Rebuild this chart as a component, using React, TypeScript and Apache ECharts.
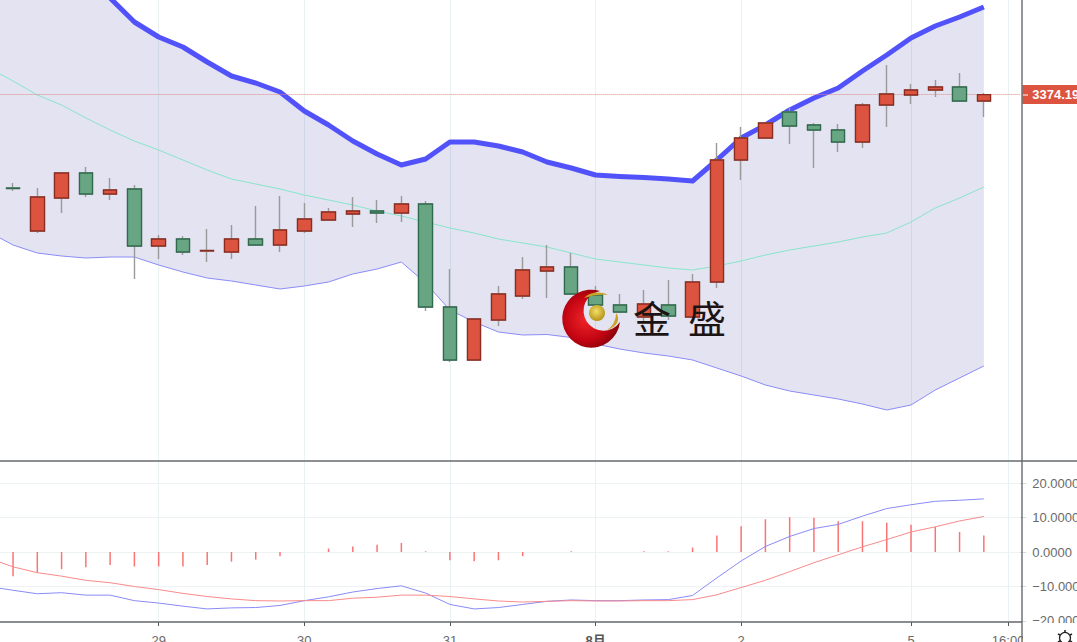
import React, { useEffect, useRef } from "react";
import * as echarts from "echarts";

const xLabels = ["", "", "", "", "", "", "", "29", "", "", "", "", "", "30", "", "", "", "", "", "31", "", "", "", "", "", "8月", "", "", "", "", "", "2", "", "", "", "", "", "", "5", "", "", "", "16:00"];

const opens = [3327.5, 3306, 3322.5, 3335, 3324.5, 3327, 3298.5, 3302, 3296, 3295.5, 3302, 3299, 3306, 3311.5, 3314.5, 3316, 3315, 3319.5, 3268, 3241.5, 3261.5, 3273.5, 3286, 3288, 3274, 3269, 3263, 3269, 3263, 3280.5, 3341.5, 3352.5, 3365.5, 3359, 3356.5, 3350.5, 3369, 3374, 3376.5, 3378, 3371];
const closes = [3327.25, 3323, 3335, 3324.5, 3326.5, 3298.5, 3302, 3295.5, 3296.25, 3302, 3299, 3306.5, 3312, 3315.5, 3316, 3315, 3319.5, 3268, 3241.5, 3262, 3274.5, 3286.5, 3288, 3274.5, 3269, 3265.5, 3269.5, 3263.5, 3280.5, 3341.5, 3352.5, 3360, 3358.5, 3356.5, 3350.5, 3369, 3374.5, 3376.5, 3378, 3371, 3374.19];
const highs = [3330, 3327.5, 3335, 3338, 3332.5, 3329, 3304, 3303.5, 3307, 3309, 3318.5, 3323.5, 3320, 3317.5, 3323, 3321.5, 3323.5, 3321, 3287, 3262.5, 3278.5, 3293, 3299, 3295, 3278.5, 3274.5, 3276.5, 3281.5, 3284.5, 3350, 3358, 3360.5, 3367.5, 3360, 3359.5, 3370, 3389, 3379.5, 3381.5, 3385, 3375];
const lows = [3326, 3305, 3315, 3323, 3321.5, 3282, 3292, 3294, 3290.5, 3292, 3299, 3295.5, 3305, 3311.5, 3308, 3310, 3310.5, 3266, 3240.5, 3241, 3258.5, 3272, 3272.5, 3274.5, 3269, 3265, 3260, 3261.5, 3263, 3277.5, 3331.5, 3352.5, 3349.5, 3337.5, 3345.5, 3347.5, 3358, 3369.5, 3373, 3371, 3363];

const bandUpper = [3470, 3466.5, 3456.5, 3446.5, 3434, 3422.5, 3410.5, 3403, 3398, 3390.5, 3383.5, 3380, 3375.5, 3366, 3359, 3351, 3344.5, 3339, 3342, 3350.5, 3350.5, 3348.5, 3345.5, 3340.5, 3337.5, 3334, 3333.25, 3332.75, 3332, 3331, 3341.5, 3352.5, 3359, 3366.5, 3372.5, 3377.5, 3386, 3394, 3402.5, 3408.5, 3413, 3418];
const bandMiddle = [3387.5, 3381, 3374, 3369, 3362.5, 3356.5, 3351, 3346.5, 3341.5, 3336.5, 3332, 3329.5, 3327, 3324, 3321.5, 3319, 3316, 3313.5, 3310.5, 3307.5, 3305, 3302, 3300, 3298, 3295, 3292, 3290.5, 3289, 3287.5, 3286.5, 3288.5, 3291, 3294, 3296.5, 3298.5, 3300.5, 3303, 3305, 3310.5, 3317.5, 3322.5, 3328];
const bandLower = [3305.5, 3299, 3295, 3293.5, 3292.5, 3293, 3293, 3289, 3285.5, 3282.5, 3281, 3279, 3277, 3278.5, 3280.5, 3284.5, 3287, 3290.5, 3280, 3266.5, 3260.5, 3255.5, 3254, 3254.25, 3252.75, 3249.5, 3247, 3245, 3243.5, 3241.5, 3237.5, 3233.5, 3229, 3226, 3224, 3222, 3219.5, 3216.5, 3219, 3226.5, 3232.5, 3238.5];

const macdLine = [-10, -11.1, -12.1, -11.8, -12.5, -12.5, -14.1, -14.8, -15.7, -16.5, -16.2, -16.1, -15.5, -14.1, -13, -11.6, -10.6, -9.8, -11.9, -15.2, -16.5, -16.1, -15.2, -14.3, -13.9, -14.1, -14.1, -13.9, -13.8, -12.6, -7.5, -2.6, 1.6, 4.5, 6.8, 8, 10.4, 12.6, 13.7, 14.7, 15, 15.4];
const signalLine = [-1.8, -4.3, -6, -7, -8.2, -8.9, -10, -10.9, -12, -12.9, -13.6, -14.1, -14.2, -14.1, -14.1, -13.4, -13.1, -12.5, -12.5, -12.9, -13.6, -14.2, -14.5, -14.3, -14.1, -14.2, -14.2, -14.1, -14.1, -13.8, -12.4, -10.3, -8.2, -5.7, -3.1, -0.8, 1.5, 3.6, 5.8, 7.3, 9, 10.3];
const histogram = [-7, -6, -5, -4.4, -3.8, -4.2, -4.2, -4.2, -3.8, -2.8, -2.2, -1.2, 0, 1, 1.6, 2.1, 2.6, 0.2, -2.4, -2.7, -2.4, -1.2, 0, 0.2, 0, 0, 0.2, 0.2, 1.3, 4.8, 7.5, 9.5, 10.1, 9.9, 8.9, 8.9, 8.5, 7.9, 7.3, 5.8, 4.8];

const lastPrice = 3374.19;
const macdTicks = [-20, -10, 0, 10, 20];

const LEFT = -23.37;
const WIDTH = 1043.6;
const FONT = '"Liberation Sans", "Noto Sans CJK SC", sans-serif';
const UP = "#dc5440";
const UP_BORDER = "#8a2c20";
const DOWN = "#67a583";
const DOWN_BORDER = "#2f6a4e";

echarts.graphic.registerShape(
  "jsCrescent",
  echarts.graphic.extendPath("M 37 3 A 29 29 0 1 0 57 34 A 20 20 0 1 1 37 3 Z", {})
);
echarts.graphic.registerShape(
  "jsSwooshTop",
  echarts.graphic.extendPath("M 0 6 C 6 0 16 -1 24 3 C 17 2 8 3 0 6 Z", {})
);
echarts.graphic.registerShape(
  "jsSwooshBottom",
  echarts.graphic.extendPath("M 0 17 C 6 15 10 8 10 0 C 15 6 11 15 0 17 Z", {})
);

const keepDay = (_: number, v: string) => v !== "";

function buildOption() {
  const blank = ["-", "-", "-", "-"];
  const wicks = [blank, ...opens.map((o, i) => [o, closes[i], lows[i], highs[i]])];
  const bodies = [
    blank,
    ...opens.map((o, i) => {
      const c = closes[i];
      return [o, c, Math.min(o, c), Math.max(o, c)];
    }),
  ];
  const thickness = bandUpper.map((u, i) => u - bandLower[i]);
  const hist = ["-", ...histogram];

  const dayLines = {
    show: true,
    interval: keepDay,
    alignWithLabel: true,
    lineStyle: { color: "#e9f2f3", width: 1 },
  };

  return {
    animation: false,
    backgroundColor: "#ffffff",
    grid: [
      { left: LEFT, width: WIDTH, top: 0, height: 461, outerBoundsMode: "none" },
      { left: LEFT, width: WIDTH, top: 461, height: 161, outerBoundsMode: "none" },
    ],
    xAxis: [
      {
        type: "category",
        gridIndex: 0,
        data: xLabels,
        axisLine: { show: false, onZero: false },
        axisTick: { show: false },
        axisLabel: { show: false },
        splitLine: dayLines,
      },
      {
        type: "category",
        gridIndex: 1,
        data: xLabels,
        axisLine: { show: false, onZero: false },
        axisTick: {
          show: true,
          alignWithLabel: true,
          interval: keepDay,
          length: 4,
          lineStyle: { color: "#555555" },
        },
        axisLabel: {
          show: true,
          interval: keepDay,
          margin: 12,
          fontSize: 13,
          fontFamily: FONT,
          color: "#6a6a6a",
          hideOverlap: false,
          formatter: (v: string) => (v === "8月" ? "{m|8月}" : v),
          rich: { m: { fontSize: 13, fontWeight: "bold", fontFamily: FONT, color: "#555555" } },
        },
        splitLine: dayLines,
      },
    ],
    yAxis: [
      {
        type: "value",
        gridIndex: 0,
        position: "right",
        min: 3191,
        max: 3421.5,
        axisLine: { show: false },
        axisTick: { show: false },
        splitLine: { show: false },
        axisLabel: {
          show: true,
          customValues: [lastPrice],
          margin: 2,
          fontSize: 13,
          lineHeight: 13,
          fontWeight: "bold",
          fontFamily: FONT,
          color: "#ffffff",
          backgroundColor: UP,
          padding: [3, 20, 3, 10],
          formatter: (v: number) => v.toFixed(2),
        },
      },
      {
        type: "value",
        gridIndex: 1,
        position: "right",
        min: -20.29,
        max: 26.38,
        axisLine: { show: false },
        axisTick: { show: true, customValues: macdTicks, length: 6, lineStyle: { color: "#d5d9da" } },
        splitLine: { show: true, lineStyle: { color: "#edf3f4", width: 1 } },
        axisLabel: {
          show: true,
          customValues: macdTicks,
          margin: 12,
          fontSize: 13,
          fontFamily: FONT,
          color: "#6a6a6a",
          formatter: (v: number) => (v < 0 ? "\u2212" + Math.abs(v).toFixed(4) : v.toFixed(4)),
        },
      },
    ],
    series: [
      {
        name: "BB lower",
        type: "line",
        xAxisIndex: 0,
        yAxisIndex: 0,
        stack: "band",
        data: bandLower,
        symbol: "none",
        lineStyle: { color: "#8a8cf6", width: 1 },
      },
      {
        name: "BB upper",
        type: "line",
        xAxisIndex: 0,
        yAxisIndex: 0,
        stack: "band",
        data: thickness,
        symbol: "none",
        lineStyle: { color: "#5252fa", width: 5, join: "round" },
        areaStyle: { color: "rgba(90,90,170,0.17)", opacity: 1 },
      },
      {
        name: "BB middle",
        type: "line",
        xAxisIndex: 0,
        yAxisIndex: 0,
        data: bandMiddle,
        symbol: "none",
        lineStyle: { color: "#88e6c9", width: 1 },
      },
      {
        name: "Wicks",
        type: "candlestick",
        xAxisIndex: 0,
        yAxisIndex: 0,
        z: 5,
        barWidth: 14,
        data: wicks,
        itemStyle: {
          color: "#9a9a9a",
          color0: "#9a9a9a",
          borderColor: "#9a9a9a",
          borderColor0: "#9a9a9a",
          borderWidth: 1.4,
          opacity: 1,
        },
        markLine: {
          silent: true,
          symbol: "none",
          label: { show: false },
          lineStyle: { color: "#ee8378", width: 1, type: "dotted" },
          data: [{ yAxis: lastPrice }],
        },
      },
      {
        name: "Candles",
        type: "candlestick",
        xAxisIndex: 0,
        yAxisIndex: 0,
        z: 6,
        barWidth: 14,
        data: bodies,
        itemStyle: {
          color: UP,
          color0: DOWN,
          borderColor: UP_BORDER,
          borderColor0: DOWN_BORDER,
          borderWidth: 1.3,
          opacity: 1,
        },
      },
      {
        name: "Histogram",
        type: "bar",
        xAxisIndex: 1,
        yAxisIndex: 1,
        barWidth: 1.5,
        data: hist,
        itemStyle: { color: "#f97474" },
      },
      {
        name: "MACD",
        type: "line",
        xAxisIndex: 1,
        yAxisIndex: 1,
        data: macdLine,
        symbol: "none",
        lineStyle: { color: "#8a8af8", width: 1 },
      },
      {
        name: "Signal",
        type: "line",
        xAxisIndex: 1,
        yAxisIndex: 1,
        data: signalLine,
        symbol: "none",
        lineStyle: { color: "#f98a8a", width: 1 },
      },
    ],
    graphic: [
      { type: "rect", z: 90, shape: { x: 1023, y: 623, width: 54, height: 19 }, style: { fill: "#ffffff" } },
      { type: "line", z: 91, shape: { x1: 0, y1: 461, x2: 1077, y2: 461 }, style: { stroke: "#666a6d", lineWidth: 1.4 } },
      { type: "line", z: 91, shape: { x1: 0, y1: 622, x2: 1022, y2: 622 }, style: { stroke: "#666a6d", lineWidth: 1.4 } },
      { type: "line", z: 91, shape: { x1: 1022, y1: 0, x2: 1022, y2: 642 }, style: { stroke: "#666a6d", lineWidth: 1.4 } },
      { type: "line", z: 92, shape: { x1: 1023, y1: 95, x2: 1028, y2: 95 }, style: { stroke: "#ffffff", lineWidth: 1 } },
      {
        type: "group",
        z: 95,
        children: [
          { type: "circle", z: 95, shape: { cx: 1065, cy: 638, r: 5.5 }, style: { fill: "#ffffff", stroke: "#222222", lineWidth: 1.3 } },
          { type: "line", z: 95, shape: { x1: 1065, y1: 630, x2: 1065, y2: 632.5 }, style: { stroke: "#222222", lineWidth: 1.5 } },
          { type: "line", z: 95, shape: { x1: 1058, y1: 634, x2: 1060.2, y2: 635.2 }, style: { stroke: "#222222", lineWidth: 1.5 } },
          { type: "line", z: 95, shape: { x1: 1072, y1: 634, x2: 1069.8, y2: 635.2 }, style: { stroke: "#222222", lineWidth: 1.5 } },
          { type: "line", z: 95, shape: { x1: 1058, y1: 642, x2: 1060.2, y2: 640.8 }, style: { stroke: "#222222", lineWidth: 1.5 } },
          { type: "line", z: 95, shape: { x1: 1072, y1: 642, x2: 1069.8, y2: 640.8 }, style: { stroke: "#222222", lineWidth: 1.5 } },
        ],
      },
      {
        type: "jsCrescent",
        z: 80,
        x: 563,
        y: 288,
        style: {
          fill: {
            type: "radial",
            x: 0.42,
            y: 0.5,
            r: 0.62,
            colorStops: [
              { offset: 0, color: "#f0262a" },
              { offset: 0.6, color: "#c40512" },
              { offset: 1, color: "#7c0208" },
            ],
          },
        },
      },
      {
        type: "circle",
        z: 81,
        shape: { cx: 597, cy: 313, r: 8 },
        style: {
          fill: {
            type: "radial",
            x: 0.45,
            y: 0.4,
            r: 0.65,
            colorStops: [
              { offset: 0, color: "#f4e06a" },
              { offset: 1, color: "#b08c10" },
            ],
          },
        },
      },
      { type: "jsSwooshTop", z: 81, x: 584, y: 292, style: { fill: "#c9a326" } },
      { type: "jsSwooshBottom", z: 81, x: 606, y: 313, style: { fill: "#c9a326" } },
      {
        type: "text",
        z: 85,
        x: 652,
        y: 316,
        style: { text: "金", font: '38px "Noto Sans CJK SC"', fill: "#1c1414", align: "center", verticalAlign: "middle" },
      },
      {
        type: "text",
        z: 85,
        x: 707,
        y: 316,
        style: { text: "盛", font: '38px "Noto Sans CJK SC"', fill: "#1c1414", align: "center", verticalAlign: "middle" },
      },
    ],
  };
}

export default function App() {
  const ref = useRef<HTMLDivElement>(null);
  useEffect(() => {
    document.body.style.margin = "0";
    document.body.style.overflow = "hidden";
    const chart = echarts.init(ref.current as HTMLDivElement, null, { renderer: "svg" });
    chart.setOption(buildOption() as any);
    return () => chart.dispose();
  }, []);
  return <div ref={ref} style={{ width: 1077, height: 642 }} />;
}
